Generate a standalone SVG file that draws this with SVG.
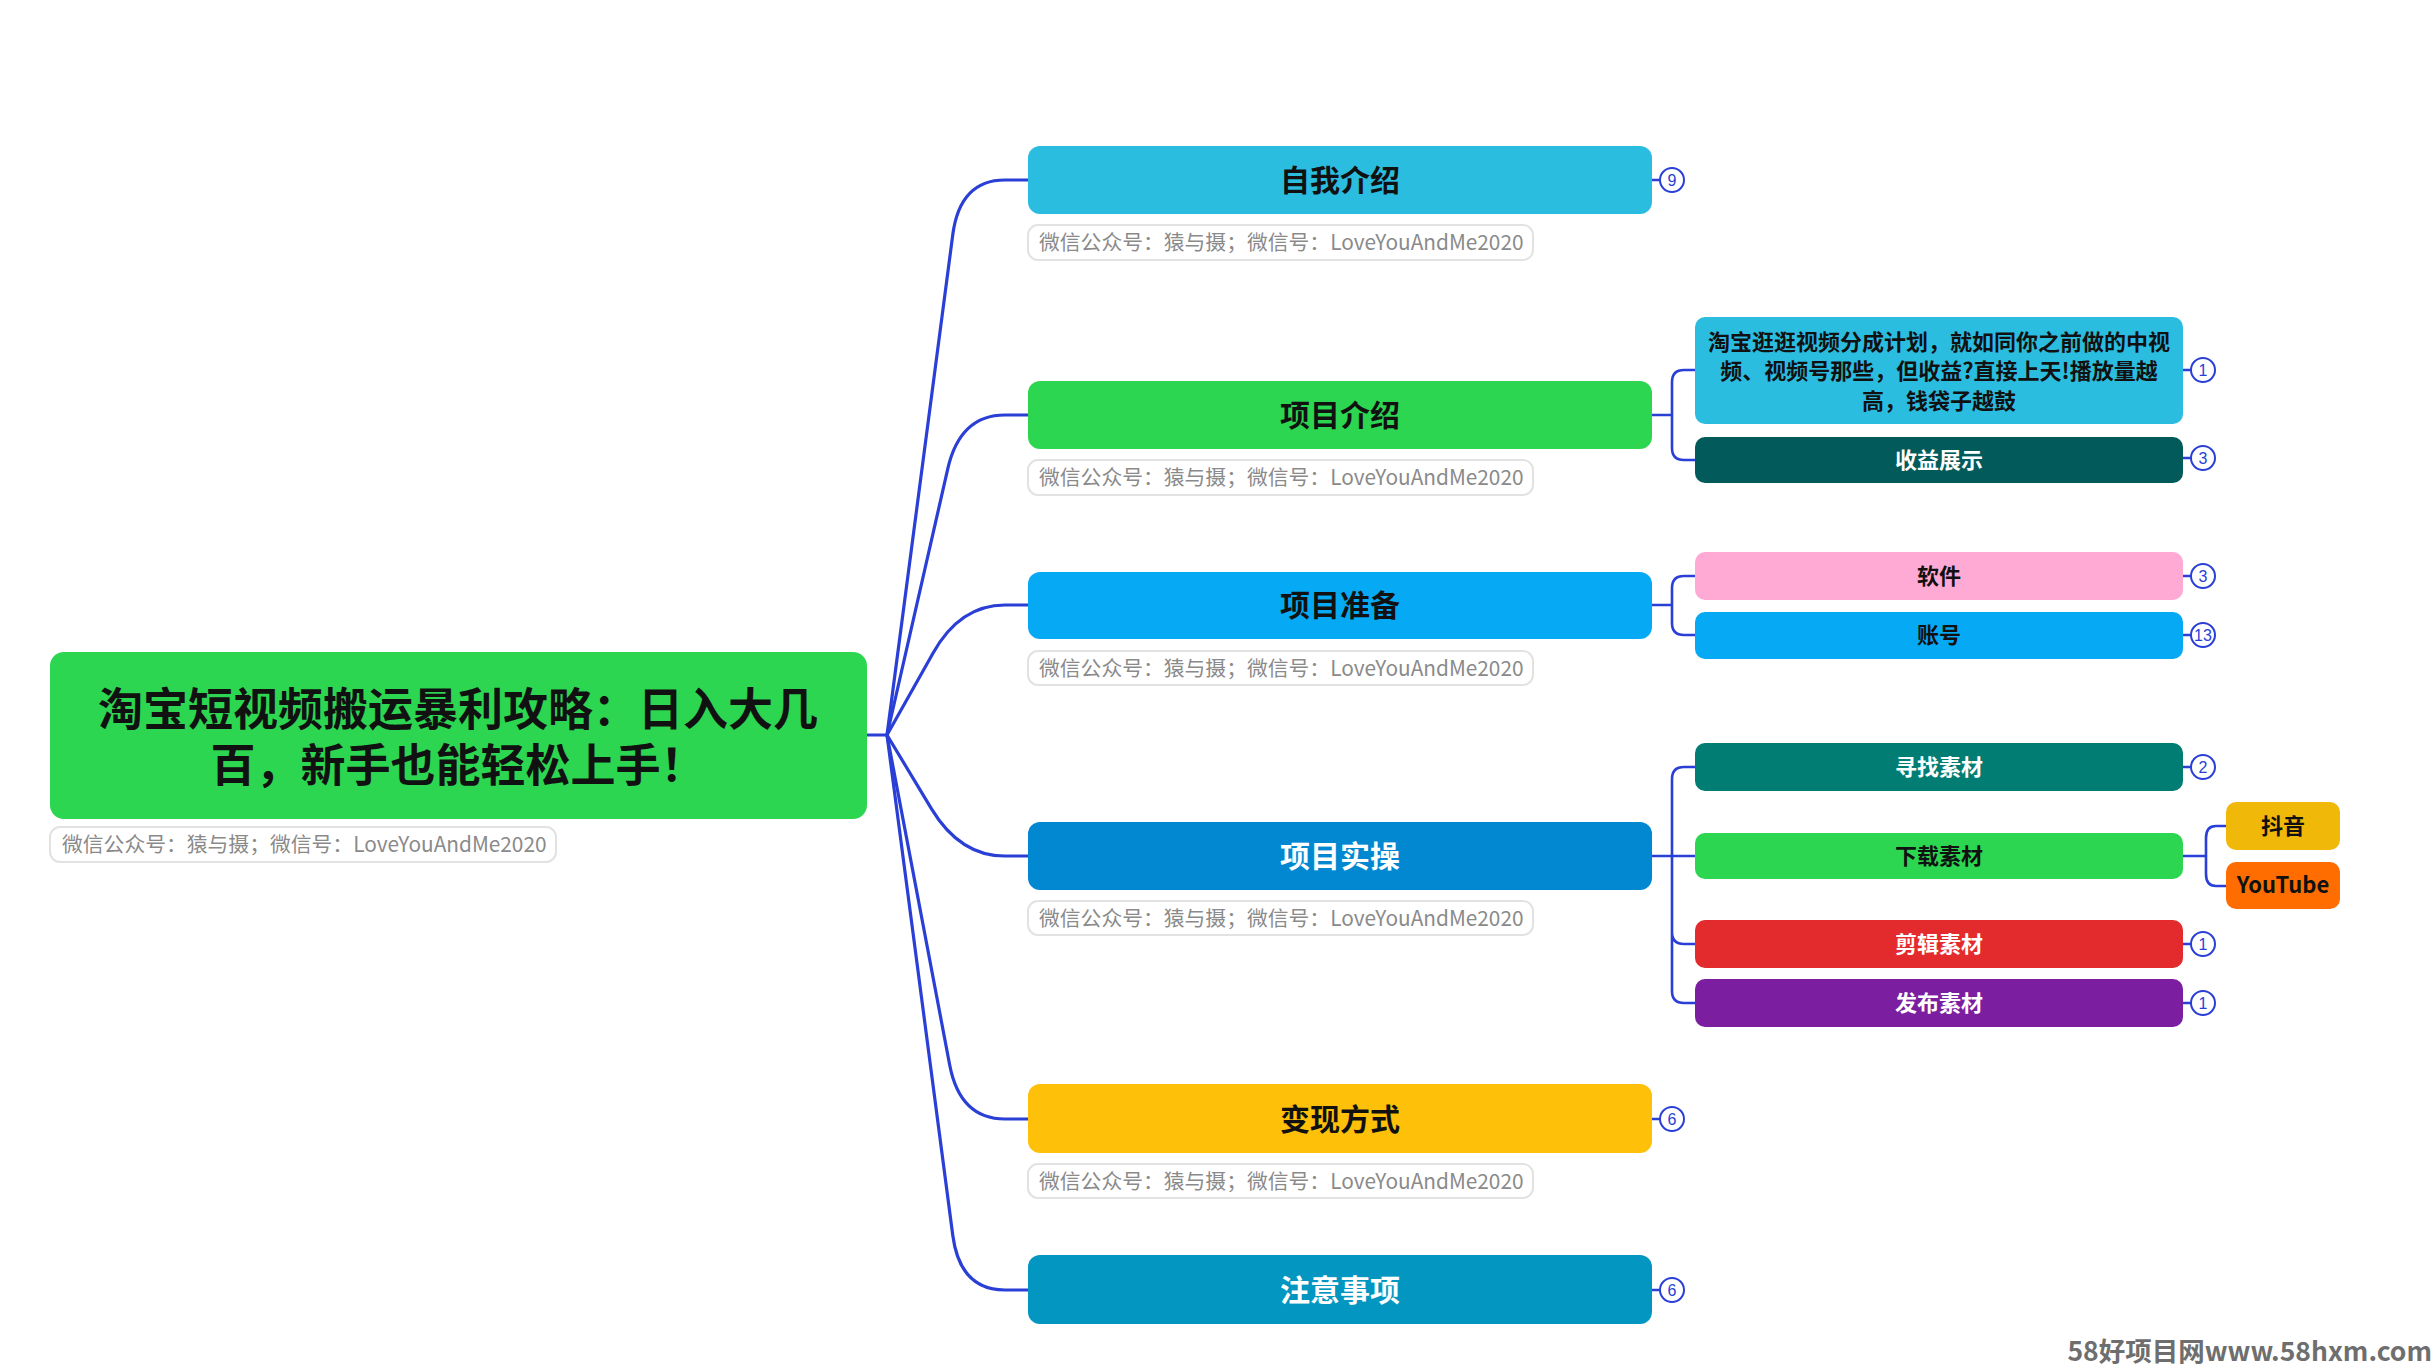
<svg xmlns="http://www.w3.org/2000/svg" width="2436" height="1366" viewBox="0 0 2436 1366">
<style>
.t{font-family:"Noto Sans CJK SC","Noto Sans",sans-serif;font-weight:bold;text-anchor:middle}
.root{font-size:45px;fill:#111}
.l1{font-size:30px}
.l2{font-size:22px}
.dk{fill:#111}
.wt{fill:#fff}
.note rect{fill:#fff;stroke:#e2e2e2;stroke-width:2}
.note text{font-family:"Noto Sans CJK SC","Noto Sans",sans-serif;font-size:20.8px;fill:#8a8a8a}
.cnt circle{fill:#fff;stroke:#2a3fd6;stroke-width:2}
.cnt text{font-family:"Liberation Sans","Noto Sans",sans-serif;font-size:16px;fill:#2a3fd6;text-anchor:middle}
.c{fill:none;stroke:#2a3fd6;stroke-width:3.2;stroke-linecap:round}
.c2{fill:none;stroke:#2a3fd6;stroke-width:2.6;stroke-linecap:round}
</style>
<rect width="2436" height="1366" fill="#fff"/>
<g id="connectors">
<path class="c" d="M867,735 H887"/>
<path class="c" d="M887,735 L952.8,234.5 Q960,180 1005,180 H1028"/>
<path class="c" d="M887,735 L947.8,468.7 Q960,415 1005,415 H1028"/>
<path class="c" d="M887,735 L933.1,653 Q960,605 1005,605 H1028"/>
<path class="c" d="M887,735 L931.5,808.8 Q960,856 1005,856 H1028"/>
<path class="c" d="M887,735 L949.7,1065 Q960,1119 1005,1119 H1028"/>
<path class="c" d="M887,735 L952.8,1235.5 Q960,1290 1005,1290 H1028"/>
<path class="c2" d="M1652,180 H1660"/>
<path class="c2" d="M1652,1119 H1660"/>
<path class="c2" d="M1652,1290 H1660"/>
<path class="c2" d="M1652,415 H1672 M1672,415 V382 Q1672,370 1684,370 H1695 M1672,415 V448 Q1672,460 1684,460 H1695"/>
<path class="c2" d="M1652,605 H1672 M1672,605 V588 Q1672,576 1684,576 H1695 M1672,605 V623 Q1672,635 1684,635 H1695"/>
<path class="c2" d="M1652,856 H1695 M1672,856 V779 Q1672,767 1684,767 H1695 M1672,856 V991 Q1672,1003 1684,1003 H1695 M1672,932 Q1672,944 1684,944 H1695"/>
<path class="c2" d="M2183,856 H2206 M2206,856 V838 Q2206,826 2216,826 H2226 M2206,856 V874 Q2206,886 2216,886 H2226"/>
<path class="c2" d="M2183,370 H2191 M2183,458 H2191 M2183,576 H2191 M2183,635 H2191 M2183,767 H2191 M2183,944 H2191 M2183,1003 H2191"/>
</g>
<g id="root">
<rect x="50" y="652" width="817" height="167" rx="14" fill="#2cd651"/>
<text class="t root" x="458" y="726">淘宝短视频搬运暴利攻略：日入大几</text>
<text class="t root" x="458" y="782">百，新手也能轻松上手！</text>
</g>
<g id="root-note" class="note">
<rect x="50" y="827" width="506" height="35" rx="10"/>
<text x="62" y="852">微信公众号：猿与摄；微信号：LoveYouAndMe2020</text>
</g>
<g id="n-ziwo">
<rect x="1028" y="146" width="624" height="68" rx="12" fill="#2bbde0"/>
<text class="t l1 dk" x="1340" y="191">自我介绍</text>
</g>
<g id="n-ziwo-note" class="note">
<rect x="1028" y="225" width="505" height="35" rx="10"/>
<text x="1039" y="250">微信公众号：猿与摄；微信号：LoveYouAndMe2020</text>
</g>
<g id="n-ziwo-count" class="cnt"><circle cx="1672" cy="180" r="12"/><text x="1672" y="186">9</text></g>
<g id="n-xiangmu">
<rect x="1028" y="381" width="624" height="68" rx="12" fill="#2cd651"/>
<text class="t l1 dk" x="1340" y="426">项目介绍</text>
</g>
<g id="n-xiangmu-note" class="note">
<rect x="1028" y="460" width="505" height="35" rx="10"/>
<text x="1039" y="485">微信公众号：猿与摄；微信号：LoveYouAndMe2020</text>
</g>
<g id="n-zhunbei">
<rect x="1028" y="572" width="624" height="67" rx="12" fill="#06a9f4"/>
<text class="t l1 dk" x="1340" y="616">项目准备</text>
</g>
<g id="n-zhunbei-note" class="note">
<rect x="1028" y="651" width="505" height="34" rx="10"/>
<text x="1039" y="676">微信公众号：猿与摄；微信号：LoveYouAndMe2020</text>
</g>
<g id="n-shicao">
<rect x="1028" y="822" width="624" height="68" rx="12" fill="#0288d1"/>
<text class="t l1 wt" x="1340" y="867">项目实操</text>
</g>
<g id="n-shicao-note" class="note">
<rect x="1028" y="901" width="505" height="34" rx="10"/>
<text x="1039" y="926">微信公众号：猿与摄；微信号：LoveYouAndMe2020</text>
</g>
<g id="n-bianxian">
<rect x="1028" y="1084" width="624" height="69" rx="12" fill="#fec009"/>
<text class="t l1 dk" x="1340" y="1130">变现方式</text>
</g>
<g id="n-bianxian-note" class="note">
<rect x="1028" y="1164" width="505" height="34" rx="10"/>
<text x="1039" y="1189">微信公众号：猿与摄；微信号：LoveYouAndMe2020</text>
</g>
<g id="n-bianxian-count" class="cnt"><circle cx="1672" cy="1119" r="12"/><text x="1672" y="1125">6</text></g>
<g id="n-zhuyi">
<rect x="1028" y="1255" width="624" height="69" rx="12" fill="#0296c0"/>
<text class="t l1 wt" x="1340" y="1301">注意事项</text>
</g>
<g id="n-zhuyi-count" class="cnt"><circle cx="1672" cy="1290" r="12"/><text x="1672" y="1296">6</text></g>
<g id="n-guangguang">
<rect x="1695" y="317" width="488" height="107" rx="10" fill="#2bbde0"/>
<text class="t l2 dk" x="1939" y="350">淘宝逛逛视频分成计划，就如同你之前做的中视</text>
<text class="t l2 dk" x="1939" y="379">频、视频号那些，但收益?直接上天!播放量越</text>
<text class="t l2 dk" x="1939" y="409">高，钱袋子越鼓</text>
</g>
<g class="cnt"><circle cx="2203" cy="370" r="12"/><text x="2203" y="376">1</text></g>
<g id="n-shouyi">
<rect x="1695" y="437" width="488" height="46" rx="10" fill="#035a5a"/>
<text class="t l2 wt" x="1939" y="468">收益展示</text>
</g>
<g class="cnt"><circle cx="2203" cy="458" r="12"/><text x="2203" y="464">3</text></g>
<g id="n-ruanjian">
<rect x="1695" y="552" width="488" height="48" rx="10" fill="#ffaad4"/>
<text class="t l2 dk" x="1939" y="584">软件</text>
</g>
<g class="cnt"><circle cx="2203" cy="576" r="12"/><text x="2203" y="582">3</text></g>
<g id="n-zhanghao">
<rect x="1695" y="612" width="488" height="47" rx="10" fill="#06a9f4"/>
<text class="t l2 dk" x="1939" y="643">账号</text>
</g>
<g class="cnt"><circle cx="2203" cy="635" r="12"/><text x="2203" y="641">13</text></g>
<g id="n-xunzhao">
<rect x="1695" y="743" width="488" height="48" rx="10" fill="#027d73"/>
<text class="t l2 wt" x="1939" y="775">寻找素材</text>
</g>
<g class="cnt"><circle cx="2203" cy="767" r="12"/><text x="2203" y="773">2</text></g>
<g id="n-xiazai">
<rect x="1695" y="833" width="488" height="46" rx="10" fill="#2cd651"/>
<text class="t l2 dk" x="1939" y="864">下载素材</text>
</g>
<g id="n-douyin">
<rect x="2226" y="802" width="114" height="48" rx="10" fill="#f0b90a"/>
<text class="t l2 dk" x="2283" y="834">抖音</text>
</g>
<g id="n-youtube">
<rect x="2226" y="862" width="114" height="47" rx="10" fill="#ff6d00"/>
<text class="t l2 dk" x="2283" y="893">YouTube</text>
</g>
<g id="n-jianji">
<rect x="1695" y="920" width="488" height="48" rx="10" fill="#e32b2e"/>
<text class="t l2 wt" x="1939" y="952">剪辑素材</text>
</g>
<g class="cnt"><circle cx="2203" cy="944" r="12"/><text x="2203" y="950">1</text></g>
<g id="n-fabu">
<rect x="1695" y="979" width="488" height="48" rx="10" fill="#7b1fa0"/>
<text class="t l2 wt" x="1939" y="1011">发布素材</text>
</g>
<g class="cnt"><circle cx="2203" cy="1003" r="12"/><text x="2203" y="1009">1</text></g>
<text x="2432" y="1361" style="font-family:'Noto Sans CJK SC','Noto Sans',sans-serif;font-weight:bold;font-size:26.5px;fill:#6e6e6e;text-anchor:end">58好项目网www.58hxm.com</text>
</svg>
